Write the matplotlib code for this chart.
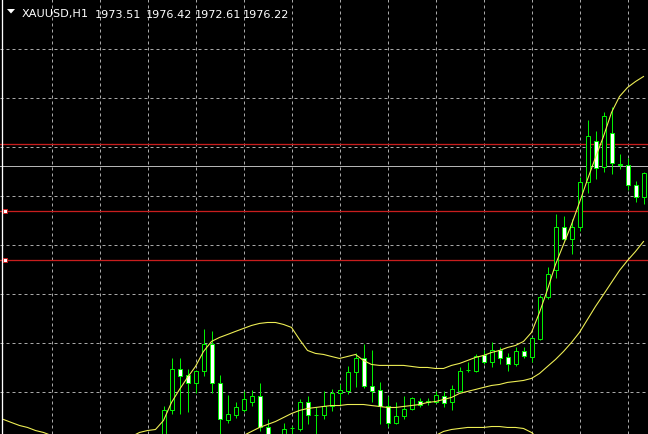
import matplotlib
matplotlib.use("Agg")
import matplotlib.pyplot as plt
from matplotlib.patches import Rectangle, Polygon
from matplotlib.lines import Line2D

# ---------------- data ----------------
symbol = "XAUUSD,H1"
header_values = ["1973.51", "1976.42", "1972.61", "1976.22"]

first_candle_bar = 20   # bar index of first visible candle (bars 0..80 span the window)

opens = [1944.22, 1948.34, 1953.16, 1952.46, 1951.52, 1952.93, 1956.11, 1951.52, 1947.16, 1947.75,
         1948.34, 1949.39, 1949.99, 1946.34, 1944.92, 1944.34, 1946.22, 1946.10, 1949.39, 1947.75,
         1947.75, 1948.81, 1950.34, 1950.58, 1952.81, 1954.46, 1951.16, 1950.69, 1948.81, 1946.92,
         1947.63, 1948.57, 1949.51, 1949.51, 1949.39, 1949.99, 1949.28, 1950.58, 1953.05, 1952.93,
         1954.81, 1953.99, 1955.40, 1954.58, 1953.75, 1955.28, 1954.58, 1956.69, 1961.63, 1964.92,
         1969.98, 1968.57, 1969.87, 1975.17, 1979.99, 1976.93, 1980.93, 1977.28, 1977.17, 1974.81,
         1973.51]
highs = [1948.92, 1954.46, 1954.46, 1953.16, 1953.05, 1957.87, 1957.64, 1952.46, 1950.11, 1949.28,
         1950.58, 1950.69, 1951.52, 1947.28, 1945.28, 1946.92, 1946.57, 1949.63, 1949.99, 1948.69,
         1950.58, 1950.81, 1951.40, 1953.52, 1955.05, 1956.11, 1955.40, 1951.64, 1949.99, 1949.28,
         1949.99, 1949.87, 1949.75, 1949.75, 1950.58, 1950.58, 1951.28, 1953.40, 1953.99, 1954.93,
         1955.40, 1956.34, 1955.75, 1955.05, 1955.75, 1955.75, 1956.93, 1961.87, 1965.16, 1971.40,
         1971.16, 1970.81, 1975.75, 1982.46, 1981.17, 1983.40, 1983.99, 1978.46, 1977.99, 1975.28,
         1976.42]
lows = [1943.75, 1947.87, 1947.98, 1948.10, 1950.34, 1952.34, 1950.34, 1945.16, 1946.92, 1947.51,
        1948.10, 1948.81, 1945.87, 1944.34, 1943.51, 1943.98, 1945.28, 1945.87, 1946.69, 1945.39,
        1947.28, 1948.22, 1948.81, 1950.22, 1951.05, 1950.93, 1949.28, 1946.69, 1946.45, 1946.69,
        1947.28, 1948.45, 1948.69, 1949.04, 1949.16, 1948.69, 1948.45, 1950.46, 1952.81, 1952.81,
        1953.75, 1953.40, 1953.75, 1952.93, 1953.52, 1954.46, 1953.99, 1956.58, 1961.40, 1963.98,
        1968.45, 1966.69, 1969.40, 1973.87, 1975.52, 1976.34, 1976.11, 1976.69, 1974.22, 1972.81,
        1972.61]
closes = [1948.45, 1953.16, 1952.34, 1951.52, 1952.93, 1956.11, 1951.52, 1947.28, 1947.87, 1948.69,
          1949.63, 1949.99, 1946.34, 1944.92, 1944.10, 1946.10, 1946.25, 1949.39, 1947.75, 1947.78,
          1948.92, 1950.34, 1950.69, 1952.81, 1954.46, 1951.16, 1950.58, 1948.81, 1946.92, 1947.63,
          1948.57, 1949.75, 1949.04, 1949.28, 1950.11, 1949.16, 1950.81, 1952.93, 1953.08, 1954.69,
          1953.99, 1955.40, 1954.46, 1953.75, 1955.28, 1954.69, 1956.81, 1961.63, 1964.34, 1969.98,
          1968.57, 1969.87, 1975.17, 1980.58, 1976.81, 1982.93, 1977.40, 1977.25, 1974.81, 1973.51,
          1976.22]

bb_upper = [1947.28, 1946.92, 1946.57, 1946.34, 1945.98, 1945.75, 1945.39, 1945.04, 1944.69, 1944.45,
            1944.22, 1944.10, 1943.98, 1944.10, 1944.34, 1944.81, 1945.28, 1945.75, 1945.98, 1946.10,
            1947.16, 1949.28, 1950.81, 1952.22, 1953.52, 1955.28, 1956.46, 1956.93, 1957.28, 1957.64,
            1957.99, 1958.34, 1958.58, 1958.69, 1958.69, 1958.46, 1958.11, 1956.69, 1955.40, 1955.05,
            1954.93, 1954.69, 1954.46, 1954.69, 1954.93, 1954.22, 1953.75, 1953.64, 1953.64, 1953.64,
            1953.64, 1953.52, 1953.40, 1953.40, 1953.28, 1953.28, 1953.64, 1953.87, 1954.22, 1954.58,
            1954.81, 1955.16, 1955.40, 1955.75, 1955.99, 1956.46, 1957.52, 1959.87, 1962.57, 1965.51,
            1967.87, 1970.22, 1972.81, 1975.52, 1978.11, 1980.58, 1983.40, 1985.28, 1986.34, 1987.04,
            1987.63]
bb_middle = [1941.39, 1941.28, 1941.16, 1941.04, 1940.92, 1940.81, 1940.69, 1940.69, 1940.57, 1940.57,
             1940.57, 1940.57, 1940.57, 1940.69, 1940.69, 1940.81, 1940.92, 1941.16, 1941.39, 1941.63,
             1941.98, 1942.22, 1942.45, 1942.81, 1943.16, 1943.51, 1943.87, 1944.22, 1944.57, 1944.92,
             1945.39, 1945.87, 1946.34, 1946.69, 1947.04, 1947.51, 1947.98, 1948.34, 1948.57, 1948.69,
             1948.81, 1948.92, 1948.92, 1949.04, 1949.04, 1949.04, 1948.92, 1948.81, 1948.69, 1948.69,
             1948.81, 1948.92, 1949.04, 1949.28, 1949.39, 1949.63, 1949.87, 1950.34, 1950.58, 1950.81,
             1951.05, 1951.28, 1951.40, 1951.64, 1951.75, 1951.87, 1952.11, 1952.69, 1953.52, 1954.34,
             1955.28, 1956.34, 1957.52, 1959.05, 1960.58, 1961.98, 1963.40, 1964.81, 1965.98, 1967.04,
             1968.22]
bb_lower = [1935.52, 1935.63, 1935.75, 1935.75, 1935.87, 1935.87, 1935.99, 1936.34, 1936.46, 1936.69,
            1936.93, 1937.05, 1937.16, 1937.28, 1937.05, 1936.81, 1936.58, 1936.58, 1936.81, 1937.16,
            1936.81, 1935.16, 1934.11, 1933.40, 1932.81, 1931.75, 1931.28, 1931.52, 1931.87, 1932.22,
            1932.81, 1933.40, 1934.11, 1934.69, 1935.40, 1936.58, 1937.87, 1939.98, 1941.75, 1942.34,
            1942.69, 1943.16, 1943.40, 1943.40, 1943.16, 1943.87, 1944.10, 1943.98, 1943.75, 1943.75,
            1943.98, 1944.34, 1944.69, 1945.16, 1945.39, 1945.87, 1946.10, 1946.22, 1946.34, 1946.34,
            1946.34, 1946.45, 1946.45, 1946.34, 1946.34, 1946.22, 1945.75, 1944.92, 1944.45, 1943.16,
            1942.69, 1942.45, 1942.22, 1942.57, 1943.04, 1943.40, 1943.40, 1943.16, 1942.81, 1942.57,
            1942.34]

red_levels = [1979.64, 1971.83, 1966.07]
marked_levels = [1971.83, 1966.07]
gray_level = 1977.05
grid_levels = [1990.81, 1985.05, 1979.29, 1973.53, 1967.77, 1962.01, 1956.25, 1950.49]
grid_bar_step = 6

# ---------------- styling ----------------
BG = "black"
BULL_FILL = "black"
BEAR_FILL = "white"
CANDLE_EDGE = "#00f000"
BAND = "#eeee55"
GRID = "#a8a8a8"
RED = "#c81e1e"
GRAYLINE = "#b4b4b4"
PX = 0.72  # one pixel in points at dpi 100

W, H = 648, 435
fig = plt.figure(figsize=(W / 100, H / 100), dpi=100)
fig.patch.set_facecolor(BG)
ax = fig.add_axes([0, 0, 1, 1])
ax.set_facecolor(BG)
ax.axis("off")

n_bars = len(bb_upper)
ax.set_xlim(-3.5 / 8, (W - 3.5) / 8)
ax.set_ylim(1945.57, 1996.75)

# grid
for g in grid_levels:
    ax.axhline(g, color=GRID, lw=PX, ls=(0, (3, 3)), zorder=1)
for b in range(grid_bar_step, n_bars, grid_bar_step):
    ax.axvline(b, color=GRID, lw=PX, ls=(0, (3, 3)), zorder=1)

# horizontal objects
for lv in red_levels:
    ax.axhline(lv, color=RED, lw=PX * 1.3, zorder=2)
ax.axhline(gray_level, color=GRAYLINE, lw=PX, zorder=2)

# candles
for k in range(len(opens)):
    b = first_candle_bar + k
    o, h, l, c = opens[k], highs[k], lows[k], closes[k]
    ax.vlines(b, l, h, color=CANDLE_EDGE, lw=PX, zorder=3)
    lo, hi = min(o, c), max(o, c)
    fill = BULL_FILL if c >= o else BEAR_FILL
    ax.add_patch(Rectangle((b - 0.25, lo), 0.5, max(hi - lo, 0.02),
                           facecolor=fill, edgecolor=CANDLE_EDGE, lw=PX, zorder=4))

# Bollinger bands
bars = list(range(n_bars))
for band in (bb_upper, bb_middle, bb_lower):
    ax.plot(bars, band, color=BAND, lw=PX * 1.1, zorder=5)

# selected-line markers
ax.plot([5.3 / W] * len(marked_levels), marked_levels, ls="none", marker="s", ms=3.4,
        mfc="white", mec=RED, mew=PX, transform=ax.get_yaxis_transform(), zorder=6)

# left border
fig.add_artist(Line2D([1.7 / W, 1.7 / W], [0, 1], color="white", lw=PX * 1.3,
                      transform=fig.transFigure))

# header
tri = Polygon([[7 / W, 1 - 10 / H], [15 / W, 1 - 10 / H], [11 / W, 1 - 14.5 / H]],
              closed=True, facecolor="white", edgecolor="none", transform=fig.transFigure)
fig.add_artist(tri)
fs = 8.1
fig.text(22 / W, 1 - 17.5 / H, symbol, color="white", fontsize=fs,
         family="DejaVu Sans", va="baseline", ha="left")
xs = [95, 145.5, 194.5, 243]
for xv, s in zip(xs, header_values):
    fig.text(xv / W, 1 - 17.5 / H, s, color="white", fontsize=fs,
             family="DejaVu Sans", va="baseline", ha="left")

fig.savefig("out.png", dpi=100, facecolor=BG)
